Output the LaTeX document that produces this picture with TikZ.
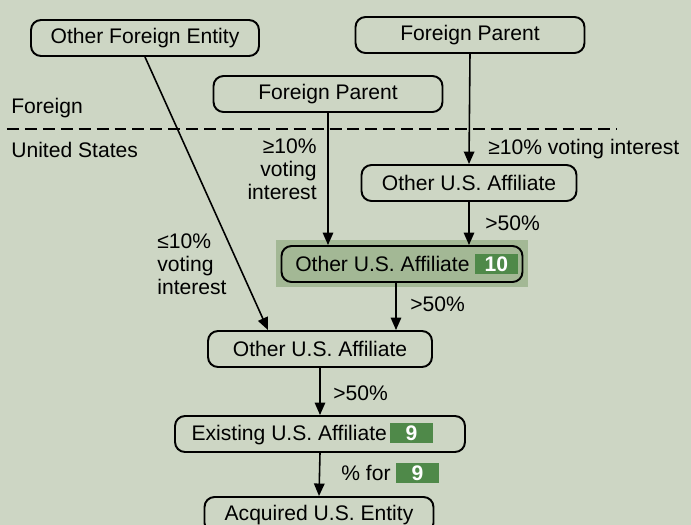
\documentclass[tikz,border=0pt]{standalone}
\usepackage{fontspec}
\setmainfont{Liberation Sans}
\usetikzlibrary{arrows.meta}

\definecolor{bgcol}{RGB}{205,214,196}
\definecolor{hlcol}{RGB}{163,184,149}
\definecolor{badgecol}{RGB}{79,137,73}

\newcommand{\badge}[1]{{\setlength{\fboxsep}{0pt}\colorbox{badgecol}{\makebox[24pt]{\rule[-1.7pt]{0pt}{11.4pt}\color{white}\bfseries #1}}}}

\begin{document}
\begin{tikzpicture}[x=0.02cm,y=-0.02cm,font=\fontsize{12}{13.1}\selectfont,
  box/.style={rectangle,rounded corners=0.2cm,draw=black,line width=1.1pt,minimum height=0.72cm,inner sep=2pt},
  arr/.style={-{Triangle[length=0.25cm,width=0.21cm]},line width=0.9pt},
  lbl/.style={inner sep=0pt}]

      \useasboundingbox[fill=bgcol] (0,0) rectangle (691,525);
      \clip (0,0) rectangle (691,525);

      \node[lbl,anchor=west] (fo) at (11,108){Foreign};
      \node[lbl,anchor=west] (us) at (11,150){United States};
      \draw[line width=1.1pt,dash pattern=on 6.8pt off 3.4pt] (7,129) -- (617,129);

      \fill[hlcol] (276,240) rectangle (528,287);

      \node[box,minimum width=4.56cm] (ofe) at (145,38){Other Foreign Entity};
      \node[box,minimum width=4.58cm] (fpa) at (470,35){Foreign Parent};
      \node[box,minimum width=4.58cm] (fpb) at (328,94){Foreign Parent};
      \node[box,minimum width=4.3cm] (usa) at (469,183){Other U.S. Affiliate};
      \node[box,fill=hlcol,minimum width=4.82cm] (usb) at (402,264){\hspace*{5pt}Other U.S. Affiliate \badge{10}};
      \node[box,minimum width=5.8cm] (ex) at (320,434){Existing U.S. Affiliate\,\badge{9}\hspace*{9pt}\null};
      \node[box,minimum width=4.48cm] (usc) at (320,349){Other U.S. Affiliate};
      \node[box,minimum width=4.58cm] (acq) at (319,515){Acquired U.S. Entity};

      \node[lbl,align=right,anchor=east] (vl) at (317,169){≥10\%\\voting\\interest};
      \node[lbl,anchor=west] (vr) at (488,149){≥10\% voting interest};
      \node[lbl,align=left,anchor=west] (vo) at (157,264){≤10\%\\voting\\interest};
      \node[lbl,anchor=west] (pa) at (485,223){>50\%};
      \node[lbl,anchor=west] (pb) at (410,304){>50\%};
      \node[lbl,anchor=west] (pc) at (333,393){>50\%};
      \node[lbl,anchor=west] (pd) at (341,473){\% for \badge{9}};

      \draw[arr] (ofe.south) -- ([xshift=-1.04cm]usc.north);
      \draw[arr] (fpb.south) -- (fpb.south |- usb.north);
      \draw[arr] (fpa.south) -- (usa.north);
      \draw[arr] (usa.south) -- (usa.south |- usb.north);
      \draw[arr] ([xshift=-0.12cm]usb.south) -- ([xshift=-0.12cm]usb.south |- usc.north);
      \draw[arr] (usc.south) -- (ex.north);
      \draw[arr] (ex.south) -- (acq.north);

\end{tikzpicture}
\end{document}
